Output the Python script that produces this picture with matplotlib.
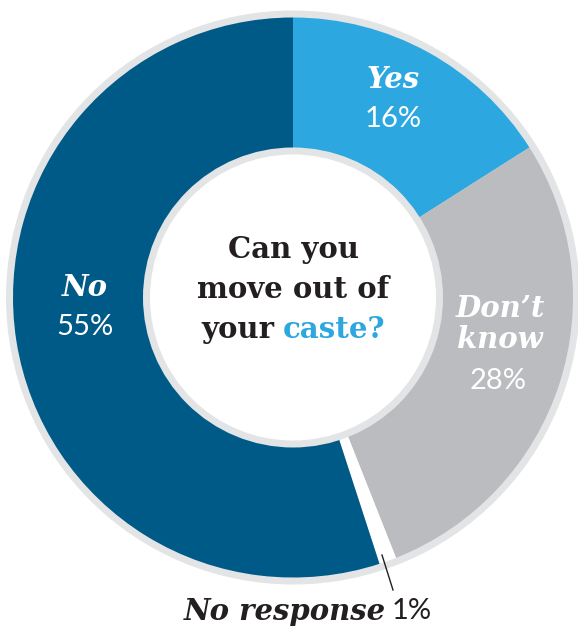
import matplotlib.pyplot as plt
from matplotlib.patches import Circle

labels = ["Yes", "Don\u2019t\nknow", "No response", "No"]
values = [16, 28, 1, 55]
pct_text = ["16%", "28%", "1%", "55%"]
colors = ["#2ca7df", "#bbbcbf", "#ffffff", "#005a87"]

W, H = 578, 630
cx, cy = 293, H - 297.5
r_out = 280
r_in = 150

fig = plt.figure(figsize=(W / 100, H / 100), dpi=100)
ax = fig.add_axes([0, 0, 1, 1])

# outer grey rim
ax.add_patch(Circle((cx, cy), r_out + 7, fc="#e3e4e6", ec="none", zorder=0))

ax.pie(values, colors=colors, startangle=90, counterclock=False,
       radius=r_out, center=(cx, cy), frame=True,
       wedgeprops=dict(width=r_out - r_in + 10, linewidth=0))
ax.set_xlim(0, W)
ax.set_ylim(0, H)
ax.set_aspect("equal")
ax.axis("off")

# inner circle with grey border
ax.add_patch(Circle((cx, cy), r_in, fc="#e3e4e6", ec="none", zorder=3))
ax.add_patch(Circle((cx, cy), r_in - 7, fc="white", ec="none", zorder=4))

slab = "DejaVu Serif"
sans = "Lato"
dark = "#231f20"

# segment labels
ax.text(393, H - 80, labels[0], color="white", fontsize=21, family=slab,
        weight="bold", style="italic", ha="center", va="center", zorder=5)
ax.text(393, H - 119, pct_text[0], color="white", fontsize=21, family=sans,
        ha="center", va="center", zorder=5)

ax.text(500, H - 324, labels[1], color="white", fontsize=21, family=slab,
        weight="bold", style="italic", ha="center", va="center",
        linespacing=1.05, zorder=5)
ax.text(498, H - 381, pct_text[1], color="white", fontsize=21, family=sans,
        ha="center", va="center", zorder=5)

ax.text(85, H - 288, labels[3], color="white", fontsize=21, family=slab,
        weight="bold", style="italic", ha="center", va="center", zorder=5)
ax.text(85, H - 327, pct_text[3], color="white", fontsize=21, family=sans,
        ha="center", va="center", zorder=5)

# no response callout
ax.plot([382, 393], [H - 555, H - 590], color=dark, lw=1, zorder=5)
ax.text(386, H - 611, labels[2], color=dark, fontsize=21,
        family=slab, weight="bold", style="italic", ha="right", va="center")
ax.text(392, H - 611, pct_text[2], color=dark, fontsize=21,
        family=sans, ha="left", va="center")

# centre question
q = dict(fontsize=21, family=slab, weight="bold", va="center", zorder=5)
ax.text(cx, H - 250, "Can you", color=dark, ha="center", **q)
ax.text(cx, H - 290, "move out of", color=dark, ha="center", **q)

fig.canvas.draw()
r = fig.canvas.get_renderer()
ta = ax.text(0, H - 329, "your", color=dark, ha="left", **q)
tb = ax.text(0, H - 329, "caste?", color="#2ca7df", ha="left", **q)
wa = ta.get_window_extent(r).width
wb = tb.get_window_extent(r).width
gap = 8
x0 = cx - (wa + gap + wb) / 2
ta.set_x(x0)
tb.set_x(x0 + wa + gap)

fig.savefig("out.png", dpi=100)
